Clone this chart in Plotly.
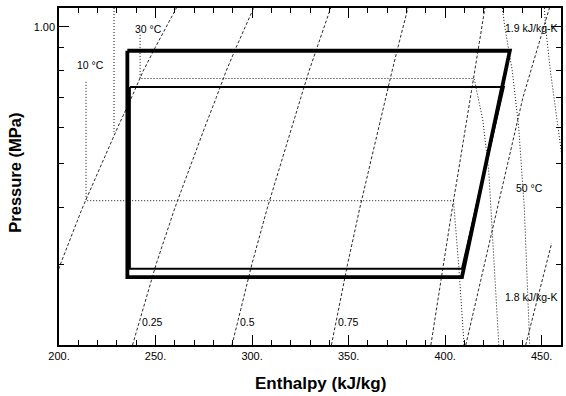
import math
import plotly.graph_objects as go

# ---------------- data (R-134a, P-h diagram) ----------------
# Saturation dome
sat_P = [0.2, 0.3, 0.4, 0.5, 0.6, 0.7, 0.8, 0.9, 1.0, 1.1]
sat_hf = [186.6, 200.6, 212.1, 221.9, 230.3, 237.6, 243.6, 249.8, 255.5, 260.8]
sat_hg = [392.6, 399.0, 403.7, 407.5, 410.5, 413.0, 415.4, 417.4, 419.1, 420.6]

# Constant-quality lines (same pressures as sat_P)
q025_h = [238.1, 250.2, 260.0, 268.3, 275.4, 281.5, 286.6, 291.7, 296.4, 300.8]
q050_h = [289.6, 299.8, 307.9, 314.7, 320.4, 325.3, 329.5, 333.6, 337.3, 340.7]
q075_h = [341.1, 349.4, 355.8, 361.1, 365.5, 369.2, 372.5, 375.5, 378.2, 380.7]

# Isotherms
t10_h = [214.0, 214.0, 404.3, 407.0, 409.8]
t10_P = [0.757, 0.415, 0.415, 0.3, 0.2]
t20_h = [228.5, 228.5]
t20_P = [1.1, 0.588]
t30_h = [242.0, 242.0, 415.0, 419.5, 422.6, 425.5, 427.8]
t30_P = [0.96, 0.77, 0.77, 0.624, 0.48, 0.3, 0.2]
t50_h = [429.6, 430.9, 434.8, 438.1, 441.0, 443.8]
t50_P = [1.1, 1.0, 0.8, 0.6, 0.4, 0.2]
t70_h = [451.4, 452.0, 454.5, 458.5, 461.0]
t70_P = [1.1, 1.0, 0.8, 0.6, 0.5]

# Isentropes
s18_h = [410.7, 420.3, 431.9, 440.3, 454.0]
s18_P = [0.2, 0.3, 0.485, 0.7, 1.1]
s19_h = [441.7, 455.2]
s19_P = [0.2, 0.335]

# Refrigeration cycles
cyc1_h = [235.4, 433.5, 408.7, 235.4, 235.4]
cyc1_P = [0.886, 0.886, 0.282, 0.282, 0.886]
cyc2_h = [236.7, 430.4, 408.7, 236.7, 236.7]
cyc2_P = [0.738, 0.738, 0.294, 0.294, 0.738]

# Labels
lab_text = ["10 °C", "30 °C", "50 °C", "1.9 kJ/kg-K", "1.8 kJ/kg-K", "0.25", "0.5", "0.75"]
lab_h = [208.3, 238.2, 435.5, 430.0, 430.0, 241.8, 292.5, 343.6]
lab_P = [0.825, 0.99, 0.443, 0.995, 0.255, 0.225, 0.225, 0.225]

x_tickvals = [200, 250, 300, 350, 400, 450]
x_ticktext = ["200.", "250.", "300.", "350.", "400.", "450."]
y_tickvals = [1.0]
y_ticktext = ["1.00"]
y_minor = [0.3, 0.4, 0.5, 0.6, 0.7, 0.8, 0.9]

FONT = "Liberation Sans, Arial, Helvetica, sans-serif"
DASH = "3px,2px"
DOT = "1px,2px"

fig = go.Figure()


def add_line(h, P, dash, width=0.9, color="#111"):
    fig.add_trace(go.Scatter(x=h, y=P, mode="lines",
                             line=dict(color=color, width=width, dash=dash),
                             hoverinfo="skip", showlegend=False))


add_line(sat_hf, sat_P, DASH)
add_line(sat_hg, sat_P, DASH)
for qh in (q025_h, q050_h, q075_h):
    add_line(qh, sat_P, DASH)
for th, tp in ((t10_h, t10_P), (t20_h, t20_P), (t30_h, t30_P), (t50_h, t50_P), (t70_h, t70_P)):
    add_line(th, tp, DOT, width=1)
add_line(s18_h, s18_P, DASH)
add_line(s19_h, s19_P, DASH)

add_line(cyc2_h, cyc2_P, "solid", width=2, color="black")
add_line(cyc1_h, cyc1_P, "solid", width=3.8, color="black")

for t, h, p in zip(lab_text, lab_h, lab_P):
    fig.add_annotation(x=h, y=math.log10(p), xref="x", yref="y", text=t,
                       showarrow=False, xanchor="left", yanchor="middle",
                       font=dict(family=FONT, size=10.5, color="black"))

fig.add_annotation(x=(322 - 59) / 504, y=(345 - 384) / 337, xref="paper", yref="paper",
                   text="<b>Enthalpy (kJ/kg)</b>", showarrow=False,
                   xanchor="center", yanchor="middle",
                   font=dict(family=FONT, size=17, color="black"))
fig.add_annotation(x=(14.5 - 59) / 504, y=(345 - 173) / 337, xref="paper", yref="paper",
                   text="<b>Pressure (MPa)</b>", showarrow=False, textangle=-90,
                   xanchor="center", yanchor="middle",
                   font=dict(family=FONT, size=16.5, color="black"))

fig.update_layout(
    width=566, height=396,
    margin=dict(l=59, r=3, t=8, b=51),
    paper_bgcolor="white", plot_bgcolor="white",
    font=dict(family=FONT, size=11, color="black"),
    xaxis=dict(range=[200, 460], showgrid=False, zeroline=False,
               showline=True, linecolor="black", linewidth=1.5, mirror="ticks",
               ticks="inside", ticklen=10, tickwidth=1.2, tickcolor="black",
               tickmode="array", tickvals=x_tickvals, ticktext=x_ticktext,
               tickfont=dict(family=FONT, size=11, color="black"),
               minor=dict(ticks="inside", ticklen=5, tickwidth=1, tickcolor="black",
                          tickmode="array",
                          tickvals=[v for v in range(210, 460, 10) if v % 50 != 0])),
    yaxis=dict(type="log", range=[math.log10(0.2), math.log10(1.1)],
               showgrid=False, zeroline=False,
               showline=True, linecolor="black", linewidth=1.5, mirror="ticks",
               ticks="inside", ticklen=10, tickwidth=1.2, tickcolor="black",
               tickmode="array", tickvals=y_tickvals, ticktext=y_ticktext,
               tickfont=dict(family=FONT, size=11, color="black"),
               minor=dict(ticks="inside", ticklen=5, tickwidth=1, tickcolor="black",
                          tickmode="array", tickvals=y_minor)),
)

fig.write_html("out.html", config={"displayModeBar": False},
               post_script="document.body.style.margin='0px';")
